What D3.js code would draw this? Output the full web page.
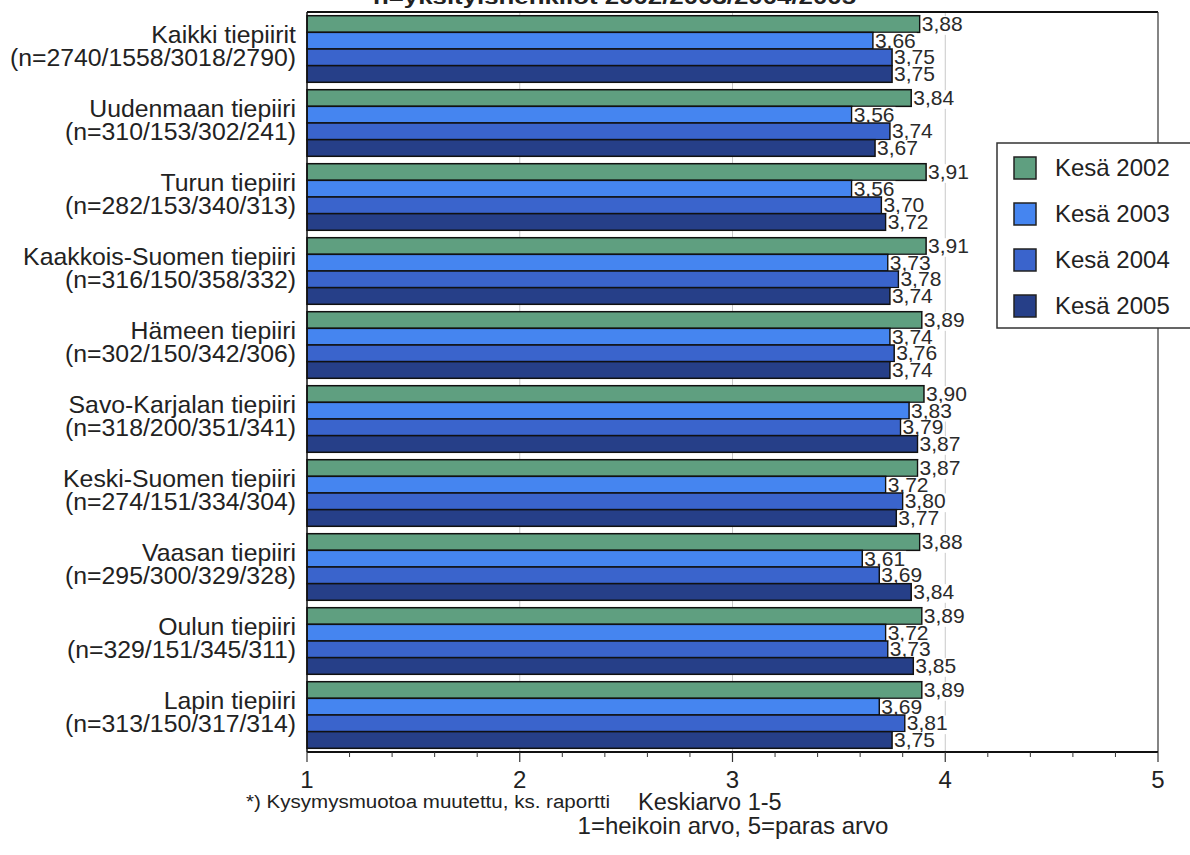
<!DOCTYPE html>
<html><head><meta charset="utf-8">
<script src="https://cdn.jsdelivr.net/npm/d3@7"></script>
<style>body{margin:0;background:#fff;} text{font-family:"Liberation Sans",Arial,sans-serif;}</style>
</head><body>
<svg id="c" width="1190" height="855"></svg>
<script>
const categories = ["Kaikki tiepiirit","Uudenmaan tiepiiri","Turun tiepiiri","Kaakkois-Suomen tiepiiri","Hämeen tiepiiri","Savo-Karjalan tiepiiri","Keski-Suomen tiepiiri","Vaasan tiepiiri","Oulun tiepiiri","Lapin tiepiiri"];
const sampleSizes = ["(n=2740/1558/3018/2790)","(n=310/153/302/241)","(n=282/153/340/313)","(n=316/150/358/332)","(n=302/150/342/306)","(n=318/200/351/341)","(n=274/151/334/304)","(n=295/300/329/328)","(n=329/151/345/311)","(n=313/150/317/314)"];
const seriesNames = ["Kesä 2002","Kesä 2003","Kesä 2004","Kesä 2005"];
const kesa2002 = [3.88,3.84,3.91,3.91,3.89,3.90,3.87,3.88,3.89,3.89];
const kesa2003 = [3.66,3.56,3.56,3.73,3.74,3.83,3.72,3.61,3.72,3.69];
const kesa2004 = [3.75,3.74,3.70,3.78,3.76,3.79,3.80,3.69,3.73,3.81];
const kesa2005 = [3.75,3.67,3.72,3.74,3.74,3.87,3.77,3.84,3.85,3.75];
const xTicks = [1,2,3,4,5];
const titleText = "n=yksityishenkilöt 2002/2003/2004/2005";
const footnote = "*) Kysymysmuotoa muutettu, ks. raportti";
const axisTitle1 = "Keskiarvo 1-5";
const axisTitle2 = "1=heikoin arvo, 5=paras arvo";

const seriesValues = [kesa2002,kesa2003,kesa2004,kesa2005];
const colors = ["#5f9f80","#4585f0","#3a64cc","#263f88"];

const svg = d3.select("#c");
const L = 307, R = 1158, T = 12, B = 752;
const x = d3.scaleLinear().domain([1,5]).range([L,R]);
const y = d3.scaleBand().domain(categories).range([T,B]).paddingInner(0.1).paddingOuter(0.05);
const ys = d3.scaleBand().domain(d3.range(4)).range([0,y.bandwidth()]);

// title (cut off at top)
svg.append("text").attr("x",373).attr("y",4).attr("font-weight","bold").attr("font-size",21)
  .attr("fill","#222").attr("textLength",483).attr("lengthAdjust","spacingAndGlyphs").text(titleText);

// gridlines
svg.append("g").selectAll("line").data([2,3,4]).join("line")
  .attr("x1",d=>x(d)).attr("x2",d=>x(d)).attr("y1",T).attr("y2",B)
  .attr("stroke","#c8c8c8").attr("stroke-width",1);

// bars + labels, drawn in order so each next bar covers previous label
const g = svg.append("g");
categories.forEach((c,i)=>{
  seriesValues.forEach((vals,s)=>{
    const v = vals[i];
    const by = y(c)+ys(s);
    g.append("rect").attr("x",x(1)).attr("y",by).attr("width",x(v)-x(1)).attr("height",ys.bandwidth())
      .attr("fill",colors[s]).attr("stroke","#111").attr("stroke-width",1.5);
    const lab = d3.format(".2f")(v).replace(".",",");
    const t = g.append("text").attr("x",x(v)+2).attr("y",by+ys.bandwidth()-1.5)
      .attr("font-size",21).attr("fill","#2a2a2a").text(lab);
    const bb = t.node().getBBox();
    g.insert("rect", () => t.node()).attr("x",bb.x-1).attr("y",by+0.5).attr("width",bb.width+2).attr("height",ys.bandwidth()+2)
      .attr("fill","#fff");
  });
});

// frame
svg.append("line").attr("x1",L).attr("x2",R).attr("y1",T).attr("y2",T).attr("stroke","#111").attr("stroke-width",2);
svg.append("line").attr("x1",L).attr("x2",L).attr("y1",T).attr("y2",B).attr("stroke","#111").attr("stroke-width",1.5);
svg.append("line").attr("x1",R).attr("x2",R).attr("y1",T).attr("y2",B).attr("stroke","#333").attr("stroke-width",1.2);

// x axis
const ax = svg.append("g").attr("transform",`translate(0,${B})`);
ax.append("line").attr("x1",L).attr("x2",R).attr("stroke","#111").attr("stroke-width",2);
const minor = d3.range(1,5.001,0.2).filter(d=>Math.abs(d-Math.round(d))>1e-6);
ax.selectAll(".mn").data(minor).join("line").attr("x1",d=>x(d)).attr("x2",d=>x(d)).attr("y1",0).attr("y2",5).attr("stroke","#333");
ax.selectAll(".mj").data(xTicks).join("line").attr("x1",d=>x(d)).attr("x2",d=>x(d)).attr("y1",0).attr("y2",10).attr("stroke","#333").attr("stroke-width",1.2);
ax.selectAll("text").data(xTicks).join("text").attr("x",d=>x(d)).attr("y",36).attr("text-anchor","middle")
  .attr("font-size",24).attr("fill","#222").text(d=>d);

// category labels
const lab = svg.append("g");
categories.forEach((c,i)=>{
  const cy = y(c)+y.bandwidth()/2;
  lab.append("text").attr("x",296).attr("y",cy-6).attr("text-anchor","end").attr("font-size",24.8).attr("fill","#222").text(c);
  lab.append("text").attr("x",296).attr("y",cy+17).attr("text-anchor","end").attr("font-size",24.8).attr("fill","#222").text(sampleSizes[i]);
});

// footer texts
svg.append("text").attr("x",246).attr("y",808).attr("font-size",18).attr("fill","#222")
  .attr("textLength",364).attr("lengthAdjust","spacingAndGlyphs").text(footnote);
svg.append("text").attr("x",638).attr("y",810).attr("font-size",23.5).attr("fill","#222").text(axisTitle1);
svg.append("text").attr("x",733).attr("y",834).attr("text-anchor","middle").attr("font-size",24).attr("fill","#222").text(axisTitle2);

// legend
const lg = svg.append("g");
lg.append("rect").attr("x",997).attr("y",143).attr("width",200).attr("height",185).attr("fill","#fff").attr("stroke","#333").attr("stroke-width",1.5);
seriesNames.forEach((n,s)=>{
  const yy = 157 + s*46;
  lg.append("rect").attr("x",1014).attr("y",yy).attr("width",22).attr("height",22).attr("fill",colors[s]).attr("stroke","#222").attr("stroke-width",1.5);
  lg.append("text").attr("x",1055).attr("y",yy+19).attr("font-size",24).attr("fill","#222").text(n);
});
</script>
</body></html>
